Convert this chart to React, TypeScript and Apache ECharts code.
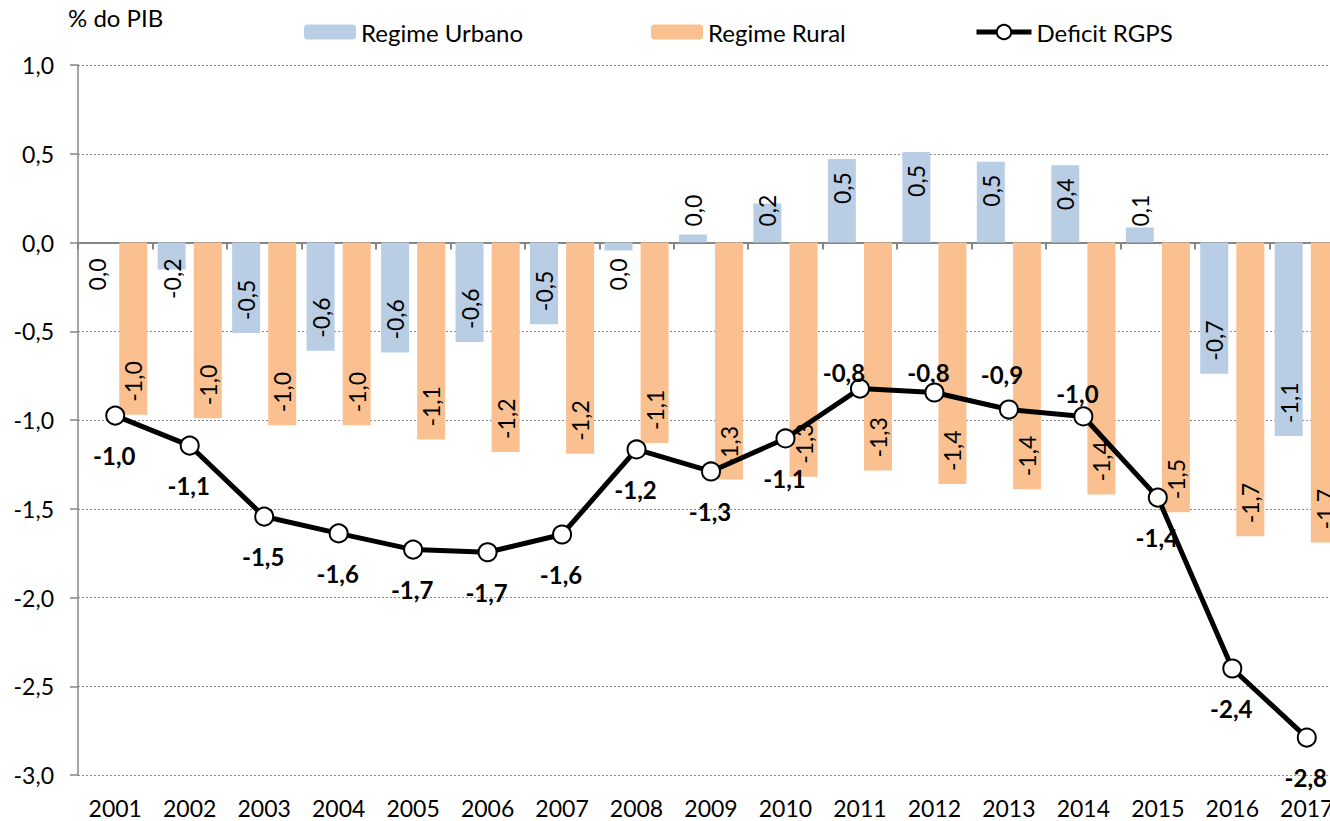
import React, { useEffect, useRef } from "react";
import * as echarts from "echarts";

const years = ["2001", "2002", "2003", "2004", "2005", "2006", "2007", "2008", "2009", "2010", "2011", "2012", "2013", "2014", "2015", "2016", "2017"];
const urbano = [0, -0.152, -0.51, -0.61, -0.62, -0.56, -0.46, -0.045, 0.045, 0.22, 0.47, 0.51, 0.455, 0.435, 0.085, -0.74, -1.09];
const rural = [-0.97, -0.99, -1.03, -1.03, -1.11, -1.18, -1.19, -1.13, -1.335, -1.32, -1.285, -1.36, -1.39, -1.42, -1.52, -1.655, -1.69];
const deficit = [-0.975, -1.144, -1.544, -1.639, -1.73, -1.745, -1.645, -1.166, -1.29, -1.104, -0.823, -0.845, -0.941, -0.98, -1.437, -2.4, -2.789];
const yTicks = { min: -3, max: 1, interval: 0.5 };
const unitLabel = "% do PIB";
const names = { urbano: "Regime Urbano", rural: "Regime Rural", deficit: "Deficit RGPS" };

const FONT = "Lato, 'Open Sans', sans-serif";

const fmt = (v: number) => {
  const s = v.toFixed(1);
  if (Math.abs(parseFloat(s)) < 0.05) return "0,0";
  return s.replace(".", ",");
};

// label placement tweaks for the line labels drawn above the point
const aboveLabels: Record<string, [number, number]> = {
  "2011": [-16, 6],
  "2012": [-6, 2],
  "2013": [-7, -13],
  "2014": [-6, -1],
};

function barItem(v: number) {
  const fits = Math.abs(v) > 0.3;
  let position: string;
  let align: string;
  if (v <= 0) {
    position = fits ? "insideBottom" : "insideTop";
    align = fits ? "left" : "right";
  } else {
    position = fits ? "insideTop" : "insideBottom";
    align = fits ? "right" : "left";
  }
  return {
    value: v,
    label: {
      show: true,
      position,
      align,
      verticalAlign: "middle",
      rotate: 90,
      distance: fits ? 13 : 16,
    },
  };
}

function lineItem(v: number, i: number) {
  const adj = aboveLabels[years[i]];
  if (adj) {
    return {
      value: v,
      label: { position: "top", distance: 0, offset: adj },
    };
  }
  return { value: v, label: { position: "bottom", distance: 18, offset: [-1, 0] } };
}

export default function App() {
  const ref = useRef<HTMLDivElement>(null);
  useEffect(() => {
    if (!ref.current) return;
    const chart = echarts.init(ref.current, null, { renderer: "svg" });
    const barLabelStyle = {
      fontFamily: FONT,
      fontSize: 23,
      color: "#000",
      formatter: (p: any) => fmt(p.value),
    };
    const legendText = { fontFamily: FONT, fontSize: 24, color: "#000" };
    const legendBase = { top: 20, itemHeight: 15, itemGap: 6, padding: 0, textStyle: legendText, selectedMode: false };
    chart.setOption({
      animation: false,
      backgroundColor: "#fff",
      textStyle: { fontFamily: FONT },
      grid: {
        left: 78,
        width: 1266,
        top: 65,
        bottom: 46,
        containLabel: false,
        outerBoundsMode: "none",
      },
      legend: [
        { ...legendBase, data: [names.urbano], left: 304, itemWidth: 52 },
        { ...legendBase, data: [names.rural], left: 651, itemWidth: 52 },
        {
          ...legendBase,
          data: [names.deficit],
          left: 974,
          itemWidth: 55,
          itemHeight: 18,
          lineStyle: { width: 5, color: "#000" },
        },
      ],
      graphic: [
        {
          type: "text",
          left: 68,
          top: 5,
          style: { text: unitLabel, font: `24px ${FONT}`, fill: "#000" },
        },
      ],
      xAxis: [
        {
          type: "category",
          data: years,
          position: "bottom",
          axisLine: { show: false, onZero: false },
          axisTick: { show: false },
          axisLabel: { fontFamily: FONT, fontSize: 23, color: "#000", margin: 21, interval: 0 },
          splitLine: { show: false },
        },
        {
          type: "category",
          data: years,
          position: "bottom",
          axisLine: { show: true, onZero: true, lineStyle: { color: "#868686", width: 2 } },
          axisTick: { show: true, length: 7, inside: false, lineStyle: { color: "#868686", width: 2 } },
          axisLabel: { show: false },
          splitLine: { show: false },
        },
      ],
      yAxis: {
        type: "value",
        min: yTicks.min,
        max: yTicks.max,
        interval: yTicks.interval,
        axisLine: { show: true, lineStyle: { color: "#868686", width: 1.5 } },
        axisTick: { show: true, length: 8, lineStyle: { color: "#868686", width: 1.5 } },
        axisLabel: {
          fontFamily: FONT,
          fontSize: 23,
          color: "#000",
          margin: 24,
          formatter: (v: number) => v.toFixed(1).replace(".", ","),
        },
        splitLine: { show: true, lineStyle: { color: "#8a8a8a", type: [2, 2], width: 1.2 } },
      },
      series: [
        {
          name: names.urbano,
          type: "bar",
          xAxisIndex: 0,
          barWidth: 28,
          barGap: "29%",
          itemStyle: { color: "#B9CDE5" },
          label: barLabelStyle,
          data: urbano.map(barItem),
          z: 2,
        },
        {
          name: names.rural,
          type: "bar",
          xAxisIndex: 0,
          barWidth: 28,
          barGap: "29%",
          itemStyle: { color: "#FAC090" },
          label: barLabelStyle,
          data: rural.map(barItem),
          z: 2,
        },
        {
          name: names.deficit,
          type: "line",
          xAxisIndex: 0,
          symbol: "circle",
          symbolSize: 18,
          lineStyle: { color: "#000", width: 5 },
          itemStyle: { color: "#fff", borderColor: "#000", borderWidth: 2 },
          label: {
            show: true,
            fontFamily: FONT,
            fontSize: 24,
            fontWeight: "bold",
            color: "#000",
            formatter: (p: any) => fmt(p.value),
          },
          data: deficit.map(lineItem),
          z: 5,
        },
      ],
    });
    return () => chart.dispose();
  }, []);
  return (
    <div
      ref={ref}
      style={{ position: "fixed", left: 0, top: 0, width: 1330, height: 821 }}
    />
  );
}
